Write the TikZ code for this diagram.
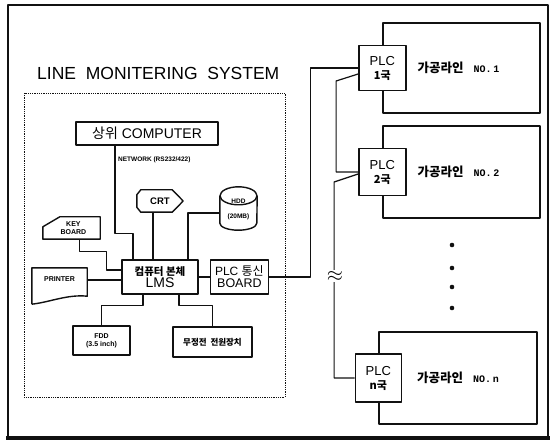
\documentclass[tikz,border=0pt]{standalone}
\usepackage{fontspec}
\setmainfont{Liberation Sans}
\newfontfamily\krfont{Noto Sans CJK KR}
\newfontfamily\nofont{Liberation Mono}
\usetikzlibrary{calc, positioning, shapes.geometric}
\definecolor{inkBlack}{HTML}{111111}
\newcommand{\kr}[1]{{\krfont #1}}
\newcommand{\lineNo}[1]{{\krfont\bfseries\fontsize{12.5}{13}\selectfont 가공라인}\hspace{10pt}{\nofont\bfseries\fontsize{10}{11}\selectfont NO.\,#1}}
\newcommand{\plcText}[1]{{\fontsize{13}{14}\selectfont PLC}\\[2pt]{\krfont\bfseries\fontsize{11}{12}\selectfont #1국}}

\begin{document}
\begin{tikzpicture}[x=1pt, y=-1pt, line join=round,
    box/.style={draw=inkBlack, line width=1.4pt, fill=white, inner sep=0pt, align=center},
    ghost/.style={inner sep=0pt, align=center},
    outline/.style={draw=inkBlack, line width=1.4pt},
    link/.style={draw=inkBlack, line width=1.2pt},
    tiny/.style={font=\bfseries\fontsize{7}{8}\selectfont}]
  \useasboundingbox (0,0) rectangle (553,443);
  % outer frame with heavy right and bottom edge
  \draw[inkBlack, line width=1.2pt] (8,5) rectangle (548,437);
  \draw[inkBlack, line width=4pt] (6,438) -- (550,438);
  \draw[inkBlack, line width=2.5pt] (548,5) -- (548,438);
  \node[ghost, anchor=west, font=\fontsize{17.5}{20}\selectfont] (title) at (37,73) {LINE\ \ MONITERING\ \ SYSTEM};
  \draw[inkBlack, line width=0.8pt, densely dotted] (24,93) rectangle (285,397);

  % system side
  \node[box, minimum width=142pt, minimum height=23pt, font=\fontsize{14}{15}\selectfont] (computer) at (147,133.5) {\kr{상위} COMPUTER};
  \node[ghost, anchor=west, font=\bfseries\fontsize{6.5}{7}\selectfont] (network) at (118,160) {NETWORK (RS232/422)};
  \node[box, minimum width=76pt, minimum height=34pt] (lms) at (160,277) {{\krfont\bfseries\fontsize{10.5}{11}\selectfont 컴퓨터 본체}\\[0pt]{\fontsize{14}{15}\selectfont LMS}};
  \node[box, minimum width=58pt, minimum height=34pt, right=11pt of lms] (plcb) {{\fontsize{12}{13}\selectfont PLC \kr{통신}}\\[0pt]{\fontsize{12.5}{13}\selectfont BOARD}};
  \node[ghost, minimum width=46pt, minimum height=22pt, font=\bfseries\fontsize{9.5}{10}\selectfont] (crt) at (160,201) {CRT};
  \node[ghost, minimum width=37pt, minimum height=45pt, font=\bfseries\fontsize{6.5}{7}\selectfont] (hdd) at (238.5,209.5) {HDD\\[8pt](20MB)};
  \node[ghost, tiny, minimum width=57pt, minimum height=22pt] (key) at (71.5,228) {\ \ KEY\\\ \ BOARD};
  \node[ghost, tiny, minimum width=55pt, minimum height=36pt] (printer) at (59.5,286) {PRINTER\\[6pt]};
  \node[box, tiny, minimum width=57pt, minimum height=29pt] (fdd) at (101.5,340.5) {FDD\\(3.5 inch)};
  \node[box, minimum width=79pt, minimum height=30pt, font=\krfont\bfseries\fontsize{8.5}{9}\selectfont] (ups) at (212.5,342) {무정전\ \ 전원장치};

  % odd outlines
  \draw[outline] ([yshift=-5pt]crt.north west) -- ([xshift=4pt]crt.north west) -- ([xshift=-11pt]crt.north east)
    -- (crt.east) -- ([xshift=-11pt]crt.south east) -- ([xshift=4pt]crt.south west) -- ([yshift=5pt]crt.south west) -- cycle;
  \draw[outline] ([yshift=-9pt]hdd.north west) -- ([yshift=9pt]hdd.south west) arc (180:360:18.5pt and 7pt)
    -- ([yshift=-9pt]hdd.north east);
  \draw[outline] ([yshift=-9pt]hdd.north) ellipse [x radius=18.5pt, y radius=9pt];
  \draw[outline] (key.south west) -- ([yshift=-10pt]key.north west) -- ([xshift=17pt]key.north west)
    -- (key.north east) -- (key.south east) -- cycle;
  \draw[outline] (printer.south west) -- (printer.north west) -- (printer.north east) -- ([yshift=8pt]printer.south east)
    .. controls ([xshift=-20pt,yshift=10pt]printer.south east) and ([xshift=18pt,yshift=2pt]printer.south west) .. (printer.south west);

  % links round the LMS
  \draw[link] ([xshift=-32pt]computer.south) -- ++(0,88) -| ([xshift=-27pt]lms.north);
  \draw[link] ([xshift=-7pt]crt.south) -- ([xshift=-7pt]crt.south |- lms.north);
  \draw[link] ([yshift=-3.5pt]hdd.west) -| ([xshift=28pt]lms.north);
  \draw[link] ([xshift=8pt]key.south) -- ++(0,12) -| ([xshift=-15pt,yshift=7pt]lms.west) -- ([yshift=7pt]lms.west);
  \draw[link] ([yshift=6pt]printer.east) -- ([yshift=6pt]printer.east -| lms.west);
  \draw[link] ([xshift=-17pt]lms.south) -- ++(0,11) -| (fdd.north);
  \draw[link] ([xshift=19pt]lms.south) -- ++(0,11) -| (ups.north);
  \draw[link] (lms) -- (plcb);

  % processing lines
  \node[box, minimum width=157pt, minimum height=90pt] (line1) at (461.5,68) {};
  \node[box, minimum width=157pt, minimum height=92pt] (line2) at (461.5,172) {};
  \node[box, minimum width=158pt, minimum height=92pt] (linen) at (458,378) {};
  \node[box, minimum width=47pt, minimum height=45pt] (plc1) at (line1.west) {\plcText{1}};
  \node[box, minimum width=47pt, minimum height=47pt] (plc2) at (line2.west) {\plcText{2}};
  \node[box, minimum width=46pt, minimum height=48pt] (plcn) at (linen.west) {\plcText{n}};
  \node[ghost, right=11pt of plc1] (lbl1) {\lineNo{1}};
  \node[ghost, right=11pt of plc2] (lbl2) {\lineNo{2}};
  \node[ghost, right=15pt of plcn] (lbln) {\lineNo{n}};
  \foreach \y in {245,268,287,308}
    \fill[inkBlack] (452,\y) circle (2.3pt);

  % PLC bus
  \draw[link] (plcb.east) -- ++(41,0) |- (plc1.west);
  \draw[link] ([yshift=-6pt]plc1.west) -- ++(-22,7) |- (plc2.west);
  \draw[link] ([yshift=-2pt]plc2.west) -- ++(-24,8) |- (plcn.west);
  \node[fill=white, inner sep=0.5pt, font=\fontsize{20}{20}\selectfont] (brk) at (335,276) {$\approx$};
\end{tikzpicture}
\end{document}
